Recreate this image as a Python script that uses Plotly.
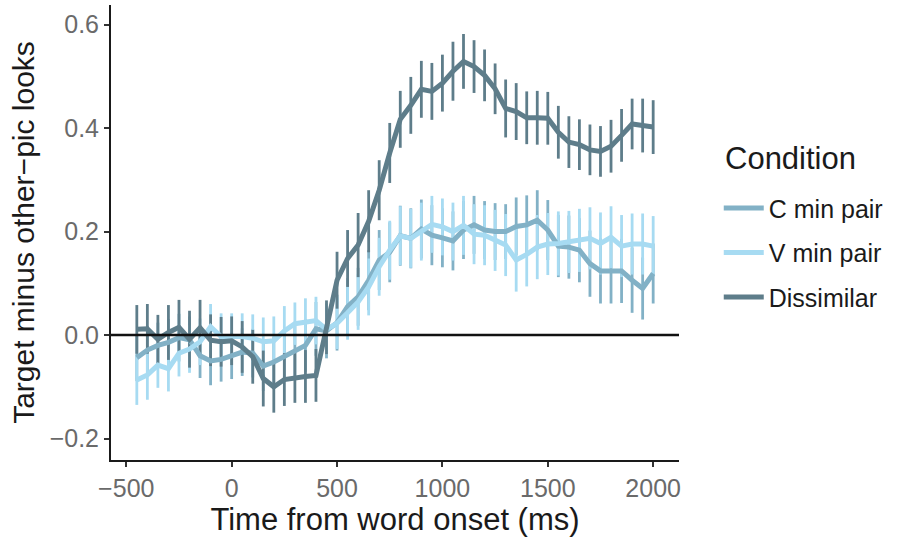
import plotly.graph_objects as go

time_ms = [-450, -400, -350, -300, -250, -200, -150, -100, -50, 0,
           50, 100, 150, 200, 250, 300, 350, 400, 450, 500,
           550, 600, 650, 700, 750, 800, 850, 900, 950, 1000,
           1050, 1100, 1150, 1200, 1250, 1300, 1350, 1400, 1450, 1500,
           1550, 1600, 1650, 1700, 1750, 1800, 1850, 1900, 1950, 2000]

c_min_pair = [-0.044, -0.029, -0.020, -0.014, -0.005, -0.009, -0.040, -0.050, -0.047, -0.040,
              -0.033, -0.035, -0.060, -0.052, -0.041, -0.031, -0.020, 0.012, 0.008, 0.024,
              0.055, 0.074, 0.106, 0.145, 0.160, 0.192, 0.187, 0.205, 0.193, 0.188,
              0.182, 0.203, 0.213, 0.203, 0.200, 0.200, 0.210, 0.213, 0.222, 0.203,
              0.172, 0.170, 0.164, 0.138, 0.124, 0.124, 0.124, 0.106, 0.090, 0.119]
c_min_se = [0.045, 0.046, 0.044, 0.045, 0.046, 0.045, 0.043, 0.047, 0.043, 0.045,
            0.046, 0.047, 0.048, 0.049, 0.050, 0.050, 0.051, 0.052, 0.053, 0.054,
            0.055, 0.056, 0.058, 0.058, 0.058, 0.058, 0.058, 0.057, 0.058, 0.057,
            0.057, 0.056, 0.056, 0.056, 0.055, 0.053, 0.056, 0.057, 0.058, 0.058,
            0.060, 0.061, 0.062, 0.064, 0.063, 0.063, 0.062, 0.063, 0.060, 0.058]

v_min_pair = [-0.087, -0.077, -0.058, -0.065, -0.035, -0.027, -0.013, 0.016, -0.003, -0.003,
              -0.003, -0.006, -0.013, -0.011, 0.008, 0.022, 0.026, 0.028, 0.011, 0.023,
              0.043, 0.064, 0.093, 0.132, 0.164, 0.192, 0.187, 0.200, 0.214, 0.209,
              0.200, 0.212, 0.195, 0.193, 0.183, 0.174, 0.145, 0.156, 0.170, 0.176,
              0.177, 0.180, 0.183, 0.187, 0.177, 0.189, 0.172, 0.176, 0.176, 0.172]
v_min_se = [0.048, 0.048, 0.044, 0.044, 0.045, 0.046, 0.045, 0.044, 0.045, 0.045,
            0.045, 0.046, 0.047, 0.047, 0.048, 0.041, 0.045, 0.046, 0.048, 0.050,
            0.052, 0.054, 0.055, 0.056, 0.057, 0.057, 0.057, 0.056, 0.055, 0.055,
            0.056, 0.057, 0.058, 0.058, 0.059, 0.060, 0.061, 0.062, 0.062, 0.060,
            0.062, 0.060, 0.061, 0.060, 0.060, 0.060, 0.060, 0.059, 0.059, 0.058]

dissimilar = [0.011, 0.012, -0.008, 0.005, 0.015, -0.008, 0.014, -0.010, -0.013, -0.011,
              -0.023, -0.042, -0.084, -0.100, -0.086, -0.082, -0.080, -0.078, 0.015, 0.106,
              0.148, 0.174, 0.220, 0.280, 0.352, 0.417, 0.444, 0.475, 0.471, 0.487,
              0.510, 0.529, 0.519, 0.502, 0.476, 0.438, 0.432, 0.420, 0.420, 0.419,
              0.392, 0.373, 0.368, 0.358, 0.355, 0.365, 0.386, 0.408, 0.405, 0.402]
dissimilar_se = [0.047, 0.048, 0.047, 0.053, 0.053, 0.055, 0.054, 0.050, 0.048, 0.047,
                 0.050, 0.052, 0.054, 0.050, 0.051, 0.049, 0.051, 0.051, 0.052, 0.055,
                 0.055, 0.062, 0.060, 0.058, 0.058, 0.055, 0.055, 0.055, 0.055, 0.055,
                 0.057, 0.053, 0.051, 0.050, 0.049, 0.056, 0.055, 0.051, 0.052, 0.051,
                 0.051, 0.050, 0.049, 0.049, 0.049, 0.051, 0.051, 0.049, 0.052, 0.052]

series_names = ["C min pair", "V min pair", "Dissimilar"]
series_vals = [c_min_pair, v_min_pair, dissimilar]
series_se = [c_min_se, v_min_se, dissimilar_se]
colors = ["#82B1C6", "#A7DBF2", "#5E7D8A"]
legend_title = "Condition"

x_ticks = [-500, 0, 500, 1000, 1500, 2000]
y_ticks = [-0.2, 0.0, 0.2, 0.4, 0.6]
y_tick_text = ["\u22120.2", "0.0", "0.2", "0.4", "0.6"]

FONT = "Liberation Sans, Arial, sans-serif"

fig = go.Figure()

# error bars (drawn beneath the lines)
for name, vals, se, col in zip(series_names, series_vals, series_se, colors):
    fig.add_trace(go.Scatter(
        x=time_ms, y=vals, mode="markers",
        marker=dict(size=1, opacity=0, color=col),
        error_y=dict(type="data", array=se, visible=True, color=col,
                     thickness=2.8, width=0),
        showlegend=False, hoverinfo="skip"))

for name, vals, col in zip(series_names, series_vals, colors):
    fig.add_trace(go.Scatter(
        x=time_ms, y=vals, mode="lines", name=name,
        line=dict(color=col, width=5), legendgroup=name))

fig.add_shape(type="line", xref="paper", x0=0, x1=1, yref="y", y0=0, y1=0,
              line=dict(color="#111111", width=2.6), layer="above")

fig.add_annotation(text=legend_title, xref="paper", yref="paper",
                   x=1.0775, y=0.6637, xanchor="left", yanchor="middle",
                   showarrow=False,
                   font=dict(size=31, color="#1a1a1a", family=FONT))

fig.update_layout(
    width=904, height=538,
    margin=dict(l=111, r=225, t=5, b=78),
    paper_bgcolor="white", plot_bgcolor="white",
    font=dict(family=FONT, color="#1a1a1a"),
    xaxis=dict(range=[-572.5, 2122.5], tickvals=x_ticks,
               showgrid=False, zeroline=False,
               showline=True, linecolor="#1a1a1a", linewidth=2,
               ticks="outside", ticklen=5, tickwidth=1.5, tickcolor="#333333",
               tickfont=dict(size=25, color="#6a6a6a", family=FONT),
               title=dict(text="Time from word onset (ms)",
                          font=dict(size=31, color="#1a1a1a", family=FONT),
                          standoff=2)),
    yaxis=dict(range=[-0.2415, 0.638], tickvals=y_ticks, ticktext=y_tick_text,
               showgrid=False, zeroline=False,
               showline=True, linecolor="#1a1a1a", linewidth=2,
               ticks="outside", ticklen=5, tickwidth=1.5, tickcolor="#333333",
               tickfont=dict(size=25, color="#6a6a6a", family=FONT),
               title=dict(text="Target minus other\u2212pic looks",
                          font=dict(size=30, color="#1a1a1a", family=FONT),
                          standoff=6)),
    legend=dict(x=1.07, xanchor="left", y=0.604, yanchor="top",
                traceorder="grouped", tracegroupgap=9, itemwidth=40,
                font=dict(size=25, color="#1a1a1a", family=FONT),
                bgcolor="rgba(0,0,0,0)"),
    showlegend=True,
)

fig.write_html("out.html")
